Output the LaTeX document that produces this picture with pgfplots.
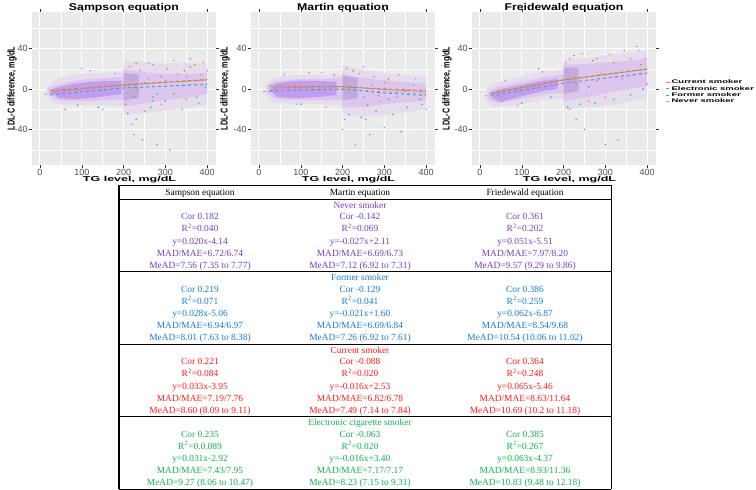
\documentclass[border=0pt]{standalone}
\usepackage{fontspec}
\setmainfont{Liberation Serif}
\newfontfamily\arial{Liberation Sans}
\usepackage{pgfplots}
\pgfplotsset{compat=1.18}
\definecolor{ggbg}{HTML}{EBEBEB}
\definecolor{ggtxt}{HTML}{4D4D4D}
\definecolor{ggtick}{HTML}{333333}
\definecolor{cCur}{HTML}{F8766D}
\definecolor{cEle}{HTML}{7CAE00}
\definecolor{cFor}{HTML}{00BFC4}
\definecolor{cNev}{HTML}{C77CFF}
\definecolor{hOuter}{HTML}{E6DDEC}
\definecolor{hMid}{HTML}{DCC6EE}
\definecolor{hDense}{HTML}{C49CEE}
\definecolor{hBlock}{HTML}{C3A9DC}
\definecolor{tNev}{HTML}{7B3AB8}
\definecolor{tFor}{HTML}{1A7BCC}
\definecolor{tCur}{HTML}{FF1A1A}
\definecolor{tEle}{HTML}{10B050}
\pgfplotsset{
 ggax/.style={
  scale only axis, width=184pt, height=153pt,
  xmin=-19, xmax=421, ymin=-75, ymax=76,
  axis background/.style={fill=ggbg},
  axis line style={draw=none},
  xtick={0,100,200,300,400}, ytick={-40,0,40},
  minor xtick={50,150,250,350}, minor ytick={-60,-20,20,60},
  grid=both,
  major grid style={white, line width=0.9pt},
  minor grid style={white, line width=0.45pt},
  tick align=outside, major tick length=2.6pt, minor tick length=0pt,
  tick style={draw=ggtick, line width=0.5pt},
  /pgf/number format/assume math mode=true,
  ticklabel style={font=\arial\fontsize{9}{9}\selectfont, text=ggtxt},
  xticklabel style={inner sep=1.2pt},
  yticklabel style={inner sep=1.5pt},
  xlabel={\scalebox{1.25}[0.72]{TG level, mg/dL}},
  xlabel style={font=\arial\bfseries\fontsize{10}{10}\selectfont, at={(axis description cs:0.53,0)}, anchor=north, yshift=-11pt, inner sep=0pt},
  ylabel={\scalebox{0.72}[1]{LDL-C difference, mg/dL}},
  ylabel style={font=\arial\bfseries\fontsize{10}{10}\selectfont, anchor=center, inner sep=0pt},
  title style={font=\arial\bfseries\fontsize{12.3}{12}\selectfont, at={(axis description cs:0.5,1)}, anchor=base, yshift=-4.6pt, inner sep=0pt},
  clip=true,
 },
 haze/.style={draw=none, fill=#1, forget plot},
 spk/.style={only marks, mark=*, mark size=0.55pt, color=#1, mark options={draw=none, fill=#1, fill opacity=0.7}, forget plot},
 tl/.style={line width=0.8pt},
}
\newcommand{\trow}[5]{%
 \pgfmathsetmacro\yy{487-#1}%
 \node[anchor=base, text=#2, inner sep=0pt] at (200pt,\yy pt) {#3};
 \node[anchor=base, text=#2, inner sep=0pt] at (360pt,\yy pt) {#4};
 \node[anchor=base, text=#2, inner sep=0pt] at (525pt,\yy pt) {#5};
}
\newcommand{\tlab}[3]{%
 \pgfmathsetmacro\yy{487-#1}%
 \node[anchor=base, text=#2, inner sep=0pt] at (360pt,\yy pt) {#3};
}
\begin{document}
\begin{tikzpicture}
\path[use as bounding box] (0pt,0pt) rectangle (756pt,490pt);

% ---------------- Sampson ----------------
\begin{axis}[ggax, at={(32pt,325pt)}, anchor=south west, title={\scalebox{1}[0.8]{Sampson equation}},
  ylabel style={at={(axis description cs:-0.109,0.5)}}]
\addplot[haze=hOuter] coordinates {(15,-8) (30,-14) (60,-16) (100,-16) (150,-16) (198,-17) (202,-26) (250,-24) (300,-21) (350,-19) (400,-15) (400,25) (350,26) (300,25) (250,27) (202,28) (198,17) (150,16) (100,15) (60,13) (30,8) (15,0)} -- cycle;
\addplot[haze=hMid] coordinates {(20,-5) (40,-11) (80,-12) (120,-12) (160,-11) (198,-11) (202,-17) (240,-15) (300,-11) (360,-8) (400,-5) (400,16) (360,15) (300,15) (240,17) (202,19) (198,12) (160,11) (120,10) (80,8) (40,4) (20,1)} -- cycle;
\addplot[haze=hDense] coordinates {(30,-4) (45,-9) (80,-10) (120,-9) (160,-7) (195,-5) (195,8) (160,8) (120,7) (80,5) (45,2) (30,0)} -- cycle;
\addplot[haze=hBlock] coordinates {(201,-11) (236,-9) (236,14) (201,16)} -- cycle;
\addplot[spk=cCur] coordinates {(215,22) (240,18) (270,24) (305,20) (330,15) (360,22) (385,14) (250,-22) (290,-15) (225,-45) (280,-55) (350,-10) (390,26) (120,18) (320,28) (260,10) (215,5) (340,3)};
\addplot[spk=cFor] coordinates {(210,-24) (230,-30) (265,-18) (300,-12) (340,-20) (375,-8) (395,2) (140,-18) (90,-16) (245,-50) (310,-60) (360,30) (280,-5) (225,-8)};
\addplot[spk=cNev] coordinates {(60,-20) (100,20) (150,-20) (180,15) (220,-35) (260,25) (300,8) (350,12) (380,-14) (400,18) (235,0) (270,-12)};
\addplot[spk=cEle] coordinates {(230,25) (270,-8) (320,-5) (345,18) (370,24) (205,-15) (290,12) (250,6)};
\addplot[tl, cNev, dashed] coordinates {(10,-5) (200,1) (400,5)};
\addplot[tl, cFor, dashed] coordinates {(25,-6) (200,1) (400,4.5)};
\addplot[tl, cCur] coordinates {(25,-3) (200,4) (400,9)};
\addplot[tl, cEle, dashed] coordinates {(25,-1.5) (200,4) (400,9.5)};
\end{axis}

% ---------------- Martin ----------------
\begin{axis}[ggax, at={(251pt,325pt)}, anchor=south west, title={\scalebox{1}[0.8]{Martin equation}},
  ylabel style={at={(axis description cs:-0.141,0.5)}}]
\addplot[haze=hOuter] coordinates {(15,-6) (30,-13) (80,-15) (150,-15) (198,-16) (202,-26) (260,-28) (320,-25) (400,-20) (400,13) (320,15) (260,18) (202,24) (198,14) (150,14) (80,14) (30,11) (15,4)} -- cycle;
\addplot[haze=hMid] coordinates {(20,-4) (40,-10) (100,-11) (160,-11) (198,-11) (202,-18) (250,-18) (320,-14) (400,-12) (400,5) (320,8) (250,11) (202,15) (198,11) (160,10) (100,10) (40,8) (20,3)} -- cycle;
\addplot[haze=hDense] coordinates {(30,-3) (45,-8) (90,-9) (140,-8) (185,-6) (185,7) (140,8) (90,8) (45,6) (30,3)} -- cycle;
\addplot[haze=hBlock] coordinates {(201,-11) (236,-9) (236,11) (201,13)} -- cycle;
\addplot[spk=cCur] coordinates {(210,20) (240,15) (275,12) (300,6) (335,14) (370,4) (395,-5) (255,-30) (300,-38) (230,-55) (120,16) (160,-18) (220,2) (285,-6)};
\addplot[spk=cFor] coordinates {(215,-25) (245,-28) (280,-22) (320,-25) (355,-18) (390,-15) (265,-45) (340,-42) (100,-15) (180,14) (250,-8) (310,-10)};
\addplot[spk=cNev] coordinates {(60,14) (90,-15) (150,16) (205,-30) (250,22) (290,-12) (330,-8) (375,10) (400,-20) (230,-5)};
\addplot[spk=cEle] coordinates {(225,18) (260,-16) (310,10) (350,-2) (385,-10) (200,-40) (270,4)};
\addplot[tl, cNev, dashed] coordinates {(10,-2.5) (200,-0.5) (400,-5)};
\addplot[tl, cFor, dashed] coordinates {(25,-1.5) (200,0) (300,-4) (400,-6.6)};
\addplot[tl, cCur] coordinates {(25,1) (200,2.5) (300,-0.5) (400,-2.4)};
\addplot[tl, cEle, dashed] coordinates {(25,3.3) (200,2) (400,-1.4)};
\end{axis}

% ---------------- Friedewald ----------------
\begin{axis}[ggax, at={(472pt,325pt)}, anchor=south west, title={\scalebox{1}[0.8]{Freidewald equation}},
  ylabel style={at={(axis description cs:-0.136,0.5)}},
  legend style={at={(1,0.477)}, anchor=west, xshift=9pt, draw=none, fill=none, inner sep=0pt, row sep=0pt,
    font=\arial\bfseries\fontsize{9.5}{9.5}\selectfont, nodes={inner sep=0.5pt, anchor=west}},
  legend cell align=left,
  legend image code/.code={\draw[#1, line width=0.9pt] (0pt,0pt) -- (5pt,0pt);}]
\addplot[haze=hOuter] coordinates {(15,-13) (30,-18) (80,-16) (150,-11) (198,-10) (202,-20) (260,-18) (330,-15) (400,-9) (400,38) (330,35) (260,31) (202,29) (198,19) (150,17) (80,11) (30,5) (15,0)} -- cycle;
\addplot[haze=hMid] coordinates {(20,-10) (40,-14) (100,-10) (160,-5) (198,-4) (202,-12) (260,-8) (330,-2) (400,3) (400,30) (330,27) (260,25) (202,24) (198,14) (160,12) (100,7) (40,2) (20,-3)} -- cycle;
\addplot[haze=hDense] coordinates {(30,-9) (50,-13) (100,-7) (150,-2) (185,0) (185,10) (150,8) (100,4) (50,0) (30,-3)} -- cycle;
\addplot[haze=hBlock] coordinates {(201,-5) (236,-2) (236,21) (201,21)} -- cycle;
\addplot[spk=cCur] coordinates {(215,30) (245,35) (280,30) (310,34) (345,38) (375,42) (395,30) (260,-12) (300,-8) (230,-30) (330,-50) (140,20) (225,12) (290,15)};
\addplot[spk=cFor] coordinates {(210,-18) (240,-15) (275,-14) (320,-10) (360,-6) (390,0) (250,-40) (300,-55) (100,-14) (170,-8) (260,2)};
\addplot[spk=cNev] coordinates {(60,8) (90,-16) (150,17) (205,25) (255,-5) (300,20) (340,10) (380,38) (400,5) (230,5)};
\addplot[spk=cEle] coordinates {(225,33) (270,28) (320,26) (360,30) (385,24) (215,-20) (280,8)};
\addplot[tl, cCur] coordinates {(25,-5) (200,9) (400,19.5)};
\addlegendentry{\scalebox{1}[0.55]{Current smoker}}
\addplot[tl, cEle, dashed] coordinates {(25,-4) (200,9) (400,20)};
\addlegendentry{\scalebox{1}[0.55]{Electronic smoker}}
\addplot[tl, cFor, dashed] coordinates {(25,-7) (200,5.6) (400,16)};
\addlegendentry{\scalebox{1}[0.55]{Former smoker}}
\addplot[tl, cNev, dashed] coordinates {(10,-7) (200,6) (400,15)};
\addlegendentry{\scalebox{1}[0.55]{Never smoker}}
\end{axis}

% ---------------- Table ----------------
\begin{scope}[font=\fontsize{9.4}{11}\selectfont]
\draw[line width=0.7pt] (119pt,305pt) -- (611pt,305pt);
\draw[line width=0.7pt] (119pt,291pt) -- (611pt,291pt);
\draw[line width=0.7pt] (119pt,218.5pt) -- (611pt,218.5pt);
\draw[line width=0.7pt] (119pt,146pt) -- (611pt,146pt);
\draw[line width=0.7pt] (119pt,73.5pt) -- (611pt,73.5pt);
\draw[line width=0.7pt] (119pt,1pt) -- (611pt,1pt);
\draw[line width=1.2pt] (119pt,305pt) -- (119pt,1pt);
\draw[line width=0.7pt] (611pt,305pt) -- (611pt,1pt);
\trow{193}{black}{Sampson equation}{Martin equation}{Friedewald equation}
% Never
\tlab{205.5}{tNev}{Never smoker}
\trow{217}{tNev}{Cor 0.182}{Cor -0.142}{Cor 0.361}
\trow{229}{tNev}{R\textsuperscript{2}=0.040}{R\textsuperscript{2}=0.069}{R\textsuperscript{2}=0.202}
\trow{241.3}{tNev}{y=0.020x-4.14}{y=-0.027x+2.11}{y=0.051x-5.51}
\trow{253.5}{tNev}{MAD/MAE=6.72/6.74}{MAD/MAE=6.69/6.73}{MAD/MAE=7.97/8.20}
\trow{265.5}{tNev}{MeAD=7.56 (7.35 to 7.77)}{MeAD=7.12 (6.92 to 7.31)}{MeAD=9.57 (9.29 to 9.86)}
% Former
\tlab{278}{tFor}{Former smoker}
\trow{289.5}{tFor}{Cor 0.219}{Cor -0.129}{Cor 0.386}
\trow{301.5}{tFor}{R\textsuperscript{2}=0.071}{R\textsuperscript{2}=0.041}{R\textsuperscript{2}=0.259}
\trow{313.8}{tFor}{y=0.028x-5.06}{y=-0.021x+1.60}{y=0.062x-6.87}
\trow{326}{tFor}{MAD/MAE=6.94/6.97}{MAD/MAE=6.69/6.84}{MAD/MAE=8.54/9.68}
\trow{338}{tFor}{MeAD=8.01 (7.63 to 8.38)}{MeAD=7.26 (6.92 to 7.61)}{MeAD=10.54 (10.06 to 11.02)}
% Current
\tlab{350.5}{tCur}{Current smoker}
\trow{362}{tCur}{Cor 0.221}{Cor -0.088}{Cor 0.364}
\trow{374}{tCur}{R\textsuperscript{2}=0.084}{R\textsuperscript{2}=0.020}{R\textsuperscript{2}=0.248}
\trow{386.3}{tCur}{y=0.033x-3.95}{y=-0.016x+2.53}{y=0.065x-5.46}
\trow{398.5}{tCur}{MAD/MAE=7.19/7.76}{MAD/MAE=6.82/6.78}{MAD/MAE=8.63/11.64}
\trow{410.5}{tCur}{MeAD=8.60 (8.09 to 9.11)}{MeAD=7.49 (7.14 to 7.84)}{MeAD=10.69 (10.2 to 11.18)}
% Electronic
\tlab{423}{tEle}{Electronic cigarette smoker}
\trow{434.5}{tEle}{Cor 0.235}{Cor -0.063}{Cor 0.385}
\trow{446.5}{tEle}{R\textsuperscript{2}=0.0.089}{R\textsuperscript{2}=0.020}{R\textsuperscript{2}=0.267}
\trow{458.8}{tEle}{y=0.031x-2.92}{y=-0.016x+3.40}{y=0.063x-4.37}
\trow{471}{tEle}{MAD/MAE=7.43/7.95}{MAD/MAE=7.17/7.17}{MAD/MAE=8.93/11.36}
\trow{483}{tEle}{MeAD=9.27 (8.06 to 10.47)}{MeAD=8.23 (7.15 to 9.31)}{MeAD=10.83 (9.48 to 12.18)}
\end{scope}
\end{tikzpicture}
\end{document}
